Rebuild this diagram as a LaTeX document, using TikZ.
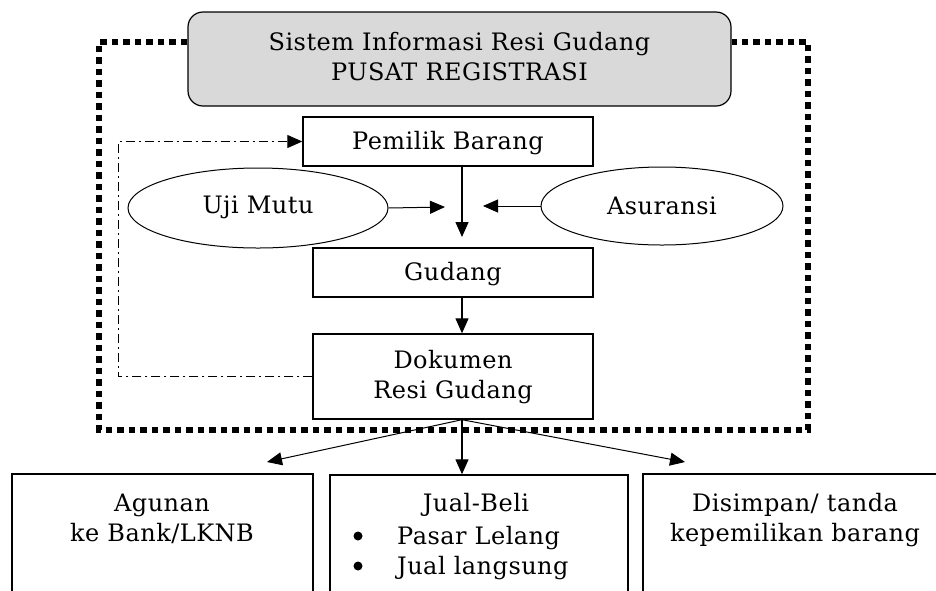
\documentclass[tikz,border=0pt]{standalone}
\usepackage{fontspec}
\setmainfont{DejaVu Serif}[LetterSpace=2]
\usetikzlibrary{arrows.meta,shapes.geometric,calc}
\tikzset{
  box/.style={draw, line width=1.4pt, rectangle, inner sep=0pt},
  oval/.style={draw, line width=1pt, ellipse, inner sep=0pt},
  txt/.style={inner sep=0pt, align=center, font=\fontsize{24}{30}\selectfont},
  tip/.style={-{Triangle[length=15pt,width=13pt]}},
  flow/.style={line width=1.3pt, tip},
  thinflow/.style={line width=1pt, tip},
  frame/.style={line width=5.5pt, dash pattern=on 6.5pt off 5pt},
  dashdot/.style={line width=1pt, dash pattern=on 9pt off 4pt on 2pt off 4pt},
}
\begin{document}
\begin{tikzpicture}[x=1pt,y=-1pt]
\useasboundingbox (0,0) rectangle (936,590);
\clip (0,0) rectangle (936,590);
% coordinates
\coordinate (fTL) at (99,42);
\coordinate (fBL) at (99,430);
\coordinate (fBR) at (808,430);
\coordinate (fTR) at (808,42);
\coordinate (ax) at (462,0);
\coordinate (dl) at (118,0);
\coordinate (gtip) at (462,237);
\coordinate (utip) at (445,207);
\coordinate (atip) at (483,206);
\coordinate (ltip) at (267,462);
\coordinate (rtip) at (685,462);
% top box
\node[box, line width=1.2pt, rounded corners=15pt, fill=gray!30, minimum width=543pt, minimum height=94pt] (top) at (459.5,59) {};
\node[txt] (toptxt) at (459.5,57) {Sistem Informasi Resi Gudang\\PUSAT REGISTRASI};
% dotted frame
\draw[frame] (top.west |- fTL) -- (fTL) -- (fBL) -- (fBR) -- (fTR) -- (top.east |- fTR);
% boxes
\node[box, minimum width=290pt, minimum height=49pt] (pem) at (448,141.5) {};
\node[txt] (pemtxt) at (448,143) {Pemilik Barang};
\node[box, minimum width=280pt, minimum height=49pt] (gud) at (453,272.5) {};
\node[txt] (gudtxt) at (453,274) {Gudang};
\node[box, minimum width=280pt, minimum height=85pt] (dok) at (453,376.5) {};
\node[txt] (doktxt) at (453,377) {Dokumen\\Resi Gudang};
% ellipses
\node[oval, minimum width=260pt, minimum height=80pt] (uji) at (258,208) {};
\node[txt] (ujitxt) at (258,207) {Uji Mutu};
\node[oval, minimum width=242pt, minimum height=78pt] (asu) at (662,206) {};
\node[txt] (asutxt) at (662,206) {Asuransi};
% arrows
\draw[flow] (pem.south -| ax) -- (gtip);
\draw[thinflow] (uji.east) -- (utip);
\draw[thinflow] (asu.west) -- (atip);
\draw[flow] (gud.south -| ax) -- (dok.north -| ax);
\draw[dashdot, tip] (dok.west) -- (dok.west -| dl) -- (pem.west -| dl) -- (pem.west);
% bottom boxes
\node[box, minimum width=301pt, minimum height=146pt] (agu) at (162.5,547) {};
\node[box, minimum width=298pt, minimum height=145pt] (jual) at (479,547.5) {};
\node[box, minimum width=305pt, minimum height=146pt] (sim) at (795.5,547) {};
\draw[thinflow] (dok.south -| ax) -- (ltip);
\draw[flow] (dok.south -| ax) -- (jual.north -| ax);
\draw[thinflow] (dok.south -| ax) -- (rtip);
% bottom texts
\node[txt, anchor=base] (agutxt) at (162,541) {Agunan\\ke Bank/LKNB};
\node[txt, anchor=base] (jualtxt) at (476,511) {Jual-Beli};
\node[txt, anchor=base west] (p1) at (397,544) {Pasar Lelang};
\node[txt, anchor=base west] (p2) at (397,574) {Jual langsung};
\fill (358,536) circle (4.5pt) node (b1) {};
\fill (358,566) circle (4.5pt) node (b2) {};
\node[txt, anchor=base] (simtxt) at (795,541) {Disimpan/ tanda\\kepemilikan barang};
\end{tikzpicture}
\end{document}
